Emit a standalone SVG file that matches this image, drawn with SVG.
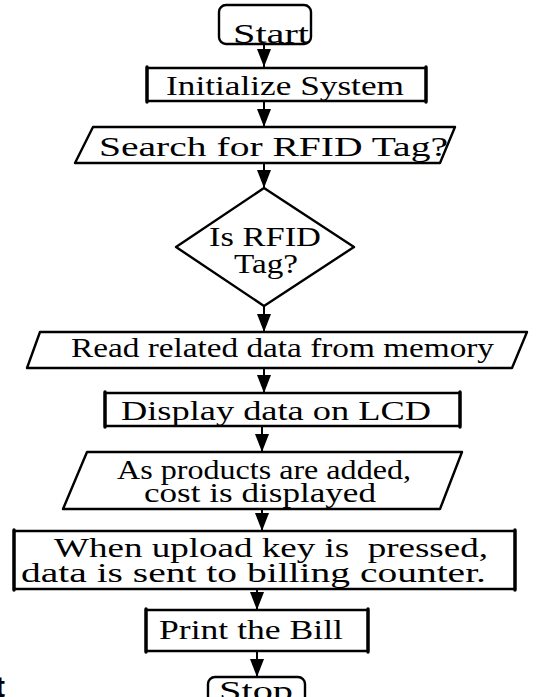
<svg xmlns="http://www.w3.org/2000/svg" width="556" height="697" viewBox="0 0 556 697">
  <style>
    .shape { fill: #fff; stroke: #000; stroke-width: 2.4; stroke-linejoin: round; }
    .side { stroke: #000; stroke-width: 3.4; stroke-linecap: round; }
    .lbl { font-family: "Liberation Serif", "Times New Roman", serif; font-size: 27px; fill: #000; text-anchor: start; }
    .conn { stroke: #000; stroke-width: 2; fill: none; }
  </style>
  <defs>
    <marker id="arrow" markerUnits="userSpaceOnUse" markerWidth="20" markerHeight="14" refX="18" refY="7" orient="auto">
      <path d="M0,0 L18,7 L0,14 Z" fill="#000"/>
    </marker>
  </defs>
  <rect width="556" height="697" fill="#fff"/>

  <!-- connectors -->
  <g id="connectors">
    <line class="conn" x1="264" y1="44" x2="264" y2="67" marker-end="url(#arrow)"/>
    <line class="conn" x1="264" y1="101" x2="264" y2="127" marker-end="url(#arrow)"/>
    <line class="conn" x1="264" y1="163" x2="264" y2="188" marker-end="url(#arrow)"/>
    <line class="conn" x1="264" y1="306" x2="264" y2="332" marker-end="url(#arrow)"/>
    <line class="conn" x1="264" y1="368" x2="264" y2="393" marker-end="url(#arrow)"/>
    <line class="conn" x1="262" y1="426" x2="262" y2="452" marker-end="url(#arrow)"/>
    <line class="conn" x1="262" y1="509" x2="262" y2="531" marker-end="url(#arrow)"/>
    <line class="conn" x1="257" y1="589" x2="257" y2="610" marker-end="url(#arrow)"/>
    <line class="conn" x1="257" y1="651" x2="257" y2="677" marker-end="url(#arrow)"/>
  </g>

  <!-- terminal: start -->
  <g id="start">
    <rect class="shape" x="219" y="5" width="92" height="39" rx="7"/>
    <text class="lbl" x="233" y="43" textLength="76" lengthAdjust="spacingAndGlyphs">Start</text>
  </g>

  <!-- process: initialize -->
  <g id="initialize">
    <rect class="shape" x="147" y="68" width="279" height="33"/>
    <line class="side" x1="147" y1="67" x2="147" y2="102"/>
    <line class="side" x1="426" y1="67" x2="426" y2="102"/>
    <text class="lbl" x="166" y="95" textLength="238" lengthAdjust="spacingAndGlyphs">Initialize System</text>
  </g>

  <!-- input: search -->
  <g id="search">
    <polygon class="shape" points="93,127 455,127 440,163 75,163"/>
    <text class="lbl" x="99" y="156" textLength="349" lengthAdjust="spacingAndGlyphs">Search for RFID Tag?</text>
  </g>

  <!-- decision: tag present -->
  <g id="decision">
    <polygon class="shape" points="264,188 354,247 264,306 176,247"/>
    <text class="lbl" x="209" y="246" textLength="112" lengthAdjust="spacingAndGlyphs">Is RFID</text>
    <text class="lbl" x="234" y="273" textLength="64" lengthAdjust="spacingAndGlyphs">Tag?</text>
  </g>

  <!-- input: read memory -->
  <g id="read">
    <polygon class="shape" points="40,332 527,332 512,368 27,368"/>
    <text class="lbl" x="71" y="357" textLength="423" lengthAdjust="spacingAndGlyphs">Read related data from memory</text>
  </g>

  <!-- process: display on LCD -->
  <g id="display">
    <rect class="shape" x="105" y="393" width="355" height="33"/>
    <line class="side" x1="105" y1="392" x2="105" y2="427"/>
    <line class="side" x1="460" y1="392" x2="460" y2="427"/>
    <text class="lbl" x="121" y="420" textLength="310" lengthAdjust="spacingAndGlyphs">Display data on LCD</text>
  </g>

  <!-- input: cost shown -->
  <g id="cost">
    <polygon class="shape" points="87,452 462,452 440,509 63,509"/>
    <text class="lbl" x="117" y="479" textLength="294" lengthAdjust="spacingAndGlyphs">As products are added,</text>
    <text class="lbl" x="144" y="502" textLength="232" lengthAdjust="spacingAndGlyphs">cost is displayed</text>
  </g>

  <!-- process: upload -->
  <g id="upload">
    <rect class="shape" x="14" y="531" width="501" height="58"/>
    <line class="side" x1="14" y1="530" x2="14" y2="590"/>
    <line class="side" x1="515" y1="530" x2="515" y2="590"/>
    <text class="lbl" x="54" y="557" textLength="434" lengthAdjust="spacingAndGlyphs" xml:space="preserve">When upload key is  pressed,</text>
    <text class="lbl" x="21" y="582" textLength="465" lengthAdjust="spacingAndGlyphs">data is sent to billing counter.</text>
  </g>

  <!-- process: print -->
  <g id="print">
    <rect class="shape" x="146" y="610" width="222" height="41"/>
    <line class="side" x1="146" y1="609" x2="146" y2="652"/>
    <line class="side" x1="368" y1="609" x2="368" y2="652"/>
    <text class="lbl" x="159" y="639" textLength="184" lengthAdjust="spacingAndGlyphs">Print the Bill</text>
  </g>

  <!-- terminal: stop -->
  <g id="stop">
    <rect class="shape" x="208" y="677" width="97" height="30" rx="7"/>
    <text class="lbl" x="219" y="700" textLength="74" lengthAdjust="spacingAndGlyphs">Stop</text>
  </g>

  <!-- word fragment at the lower left edge -->
  <text x="-5" y="697" font-family="Liberation Sans, Arial, sans-serif" font-weight="bold" font-size="30" fill="#000">t</text>
</svg>
